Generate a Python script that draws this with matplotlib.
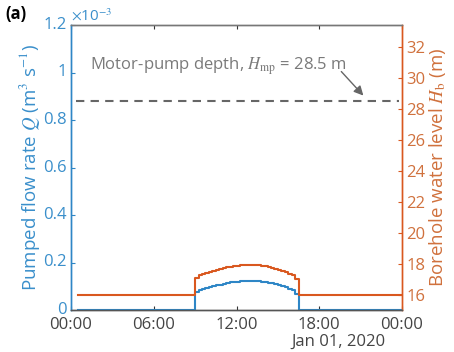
import matplotlib
matplotlib.use("Agg")
import matplotlib.pyplot as plt
import matplotlib.dates as mdates
import numpy as np
import datetime as dt

plt.rcParams['font.family'] = ['Open Sans', 'DejaVu Sans']
plt.rcParams['mathtext.fontset'] = 'stix'

# ---- data ----
day = dt.datetime(2020, 1, 1)
pump_start_h = 9.0          # first step (hours)
step_min = 15               # step length (minutes)
# pumped flow rate during pumping (x 1e-3 m^3/s), one value per 15-min step
q_steps = [0.074, 0.085, 0.088, 0.093, 0.097, 0.101, 0.104, 0.107, 0.110, 0.113,
           0.116, 0.118, 0.120, 0.122, 0.123, 0.124, 0.124, 0.123, 0.122, 0.120,
           0.118, 0.115, 0.112, 0.108, 0.104, 0.100, 0.095, 0.090, 0.084, 0.068]
# borehole water level during pumping (m)
h_steps = [17.11, 17.30, 17.35, 17.43, 17.50, 17.57, 17.62, 17.67, 17.72, 17.77,
           17.82, 17.86, 17.89, 17.92, 17.94, 17.96, 17.96, 17.94, 17.92, 17.89,
           17.86, 17.81, 17.75, 17.69, 17.62, 17.55, 17.47, 17.38, 17.28, 17.01]
h_rest = 16.0
q_rest = 0.0
series_start_h = 0.5
series_end_h = 24.0
h_motor_pump = 28.5

left_ticks = [0, 0.2, 0.4, 0.6, 0.8, 1, 1.2]
left_tick_labels = ['0', '0.2', '0.4', '0.6', '0.8', '1', '1.2']
right_ticks = [16, 18, 20, 22, 24, 26, 28, 30, 32]

# build step series
pump_end_h = pump_start_h + len(q_steps) * step_min / 60
t_h = [series_start_h, pump_start_h]
q = [q_rest, q_rest]
h = [h_rest, h_rest]
for i, (qq, hh) in enumerate(zip(q_steps, h_steps)):
    t0 = pump_start_h + i * step_min / 60
    t1 = t0 + step_min / 60
    t_h += [t0, t1]
    q += [qq, qq]
    h += [hh, hh]
t_h += [pump_end_h, series_end_h]
q += [q_rest, q_rest]
h += [h_rest, h_rest]
t = [day + dt.timedelta(hours=x) for x in t_h]

blue = '#2E86C6'
blue_txt = '#3A8FCB'
orange = '#D9581F'
orange_txt = '#D0713D'
gray = '#666666'

fig = plt.figure(figsize=(4.54, 3.52), dpi=100)
ax = fig.add_axes([71/454, 1-310/352, 331/454, 285/352])
ax2 = ax.twinx()

ax.plot(t, q, color=blue, lw=1.5, zorder=3)
ax2.plot(t, h, color=orange, lw=1.5)

ax.set_xlim(day, day + dt.timedelta(days=1))
ax.set_ylim(0, 1.2)
ax2.set_ylim(15.03, 33.4)

ax.set_yticks(left_ticks)
ax.set_yticklabels(left_tick_labels)
ax2.set_yticks(right_ticks)
ax.xaxis.set_major_locator(mdates.HourLocator(byhour=[0, 6, 12, 18]))
ax.xaxis.set_major_formatter(mdates.DateFormatter('%H:%M'))

fs = 12
ax.tick_params(axis='x', direction='in', length=3, colors='#333333', labelcolor='#444444',
               labelsize=fs, top=True, pad=5)
ax.tick_params(axis='y', direction='in', length=3, colors=blue, labelcolor=blue_txt,
               labelsize=fs, pad=3)
ax2.tick_params(axis='y', direction='in', length=3, colors=orange, labelcolor=orange_txt,
                labelsize=fs, pad=3)
for lab in ax.get_yticklabels():
    lab.set_verticalalignment('center')

for a in (ax, ax2):
    a.spines['left'].set_color(blue)
    a.spines['right'].set_color(orange)
    a.spines['top'].set_color('#777777')
    a.spines['bottom'].set_color('#555555')
    for s in a.spines.values():
        s.set_linewidth(1.0)

ax.set_ylabel(r'Pumped flow rate $Q$ (m$^3$ s$^{-1}$)', color=blue_txt, fontsize=13.5, labelpad=1)
ax2.set_ylabel(r'Borehole water level $H_\mathrm{b}$ (m)', color=orange_txt, fontsize=13.5, labelpad=1)

ax.text(0.0, 1.0, r'$\times$10$^{-3}$', transform=ax.transAxes, color=blue_txt,
        fontsize=fs - 1, ha='left', va='bottom')

# motor-pump depth
ax2.axhline(h_motor_pump, xmin=0.015, xmax=0.99, color=gray, lw=1.5, ls=(0, (4, 3)))
ax2.text(0.058, 0.855, r'Motor-pump depth, $H_\mathrm{mp}$ = 28.5 m', transform=ax.transAxes,
         color='#7A7A7A', fontsize=12, ha='left', va='center')
ax2.annotate('', xy=(day + dt.timedelta(hours=21.2), h_motor_pump + 0.35),
             xytext=(day + dt.timedelta(hours=19.6), 30.4),
             arrowprops=dict(arrowstyle='-|>', color=gray, lw=1.0, mutation_scale=14,
                             shrinkA=0, shrinkB=0))

fig.text(338/454, 1-350/352, 'Jan 01, 2020', color='#444444', fontsize=fs, ha='center', va='bottom')
fig.text(5/454, 1-14/352, '(a)', fontsize=fs, fontweight='bold', ha='left', va='center')

fig.savefig('out.png', dpi=100)
